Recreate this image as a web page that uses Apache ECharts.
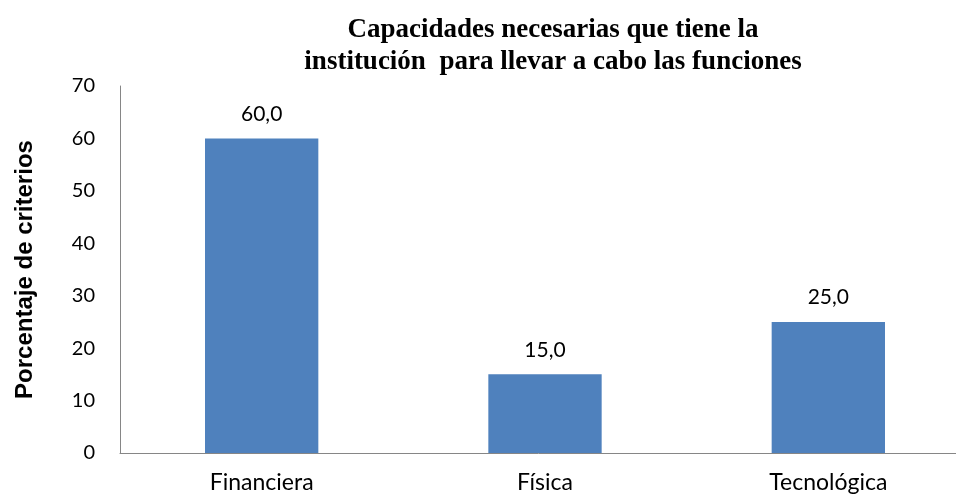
<!DOCTYPE html>
<html>
<head>
<meta charset="utf-8">
<script src="https://cdn.jsdelivr.net/npm/echarts@6/dist/echarts.min.js"></script>
<style>
  html, body { margin: 0; padding: 0; background: #fff; }
  #chart { width: 956px; height: 496px; }
</style>
</head>
<body>
<div id="chart"></div>
<script>
  let categories = ['Financiera', 'Física', 'Tecnológica']
  let values = [60.0, 15.0, 25.0]
  let yTicks = { min: 0, max: 70, interval: 10 }

  let myChart = echarts.init(document.getElementById('chart'))
  let option = {
    backgroundColor: '#ffffff',
    animation: false,
    title: {
      text: 'Capacidades necesarias que tiene la\ninstitución  para llevar a cabo las funciones',
      left: 548,
      top: 9,
      textAlign: 'center',
      textStyle: {
        fontFamily: '"Liberation Serif", "Times New Roman", serif',
        fontWeight: 'bold',
        fontSize: 27,
        lineHeight: 32,
        color: '#000'
      }
    },
    grid: {
      left: 120,
      width: 850,
      top: 86,
      bottom: 43,
      outerBoundsMode: 'none'
    },
    xAxis: {
      type: 'category',
      data: categories,
      axisLine: { show: true, lineStyle: { color: '#868686', width: 1 } },
      axisTick: { show: false },
      axisLabel: {
        margin: 18,
        fontFamily: 'Lato, "Open Sans", sans-serif',
        fontSize: 23,
        color: '#000'
      }
    },
    yAxis: {
      type: 'value',
      min: yTicks.min,
      max: yTicks.max,
      interval: yTicks.interval,
      name: 'Porcentaje de criterios',
      nameLocation: 'middle',
      nameGap: 83,
      nameTextStyle: {
        fontFamily: '"Liberation Sans", Arial, sans-serif',
        fontWeight: 'bold',
        fontSize: 24,
        color: '#000'
      },
      axisLine: { show: true, lineStyle: { color: '#868686', width: 1 } },
      axisTick: { show: false },
      splitLine: { show: false },
      axisLabel: {
        margin: 25,
        fontFamily: 'Lato, "Open Sans", sans-serif',
        fontSize: 20,
        color: '#000'
      }
    },
    series: [
      {
        type: 'bar',
        data: values,
        barWidth: '40%',
        itemStyle: { color: '#4F81BD' },
        label: {
          show: true,
          position: 'top',
          distance: 14,
          fontFamily: 'Lato, "Open Sans", sans-serif',
          fontSize: 21,
          color: '#000',
          formatter: function (p) {
            return p.value.toFixed(1).replace('.', ',')
          }
        }
      }
    ]
  }
  myChart.setOption(option)
</script>
</body>
</html>
